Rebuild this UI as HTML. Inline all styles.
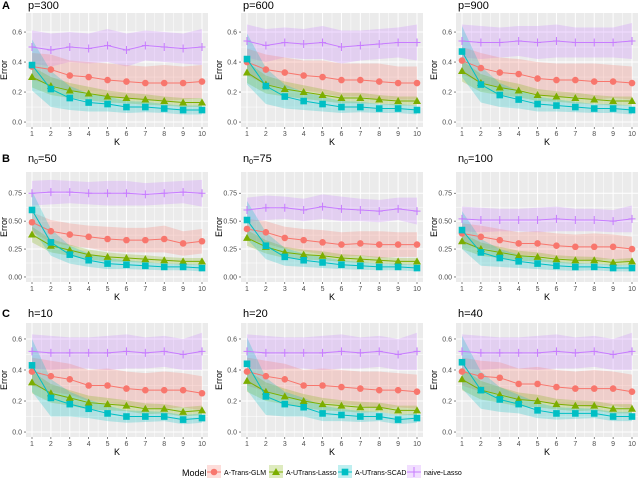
<!DOCTYPE html>
<html><head><meta charset="utf-8">
<style>
body{margin:0;background:#fff;}
svg{display:block;font-family:"Liberation Sans",Arial,sans-serif;}
</style></head>
<body>
<svg id="chart" width="640" height="478" viewBox="0 0 640 478"></svg>
<script>
const kValues=[1,2,3,4,5,6,7,8,9,10];
const panelTitles=["p=300","p=600","p=900","n0=50","n0=75","n0=100","h=10","h=20","h=40"];
const rowLetters=["A","B","C"];
const seriesNames=["A-Trans-GLM","A-UTrans-Lasso","A-UTrans-SCAD","naive-Lasso"];
const ticksAC=[0,0.2,0.4,0.6];
const tickLabelsAC=["0.0","0.2","0.4","0.6"];
const ticksB=[0,0.25,0.5,0.75];
const tickLabelsB=["0.00","0.25","0.50","0.75"];
const glmVals=[
[.37,.35,.31,.30,.28,.27,.26,.26,.26,.27],
[.40,.35,.33,.31,.30,.28,.28,.27,.26,.26],
[.41,.36,.33,.32,.29,.28,.28,.27,.27,.26],
[.49,.41,.38,.36,.34,.33,.33,.34,.30,.32],
[.43,.40,.35,.33,.31,.29,.30,.29,.29,.29],
[.39,.36,.33,.30,.30,.28,.27,.27,.27,.25],
[.39,.36,.34,.30,.30,.28,.27,.27,.27,.25],
[.39,.36,.34,.30,.30,.29,.28,.27,.27,.26],
[.39,.36,.35,.31,.31,.29,.28,.28,.28,.26]];
const ulassoVals=[
[.30,.24,.21,.19,.17,.16,.15,.14,.13,.13],
[.33,.25,.22,.20,.18,.16,.16,.15,.14,.14],
[.34,.26,.23,.21,.18,.17,.16,.15,.14,.14],
[.38,.28,.24,.20,.18,.17,.16,.15,.14,.14],
[.35,.27,.22,.20,.19,.17,.16,.15,.14,.14],
[.32,.25,.22,.19,.18,.16,.15,.15,.13,.14],
[.32,.25,.22,.19,.18,.17,.15,.15,.13,.14],
[.33,.26,.23,.20,.18,.17,.16,.16,.14,.14],
[.34,.27,.24,.21,.20,.18,.17,.17,.15,.15]];
const uscadVals=[
[.38,.22,.16,.13,.12,.10,.10,.09,.08,.08],
[.42,.24,.17,.14,.12,.10,.10,.09,.09,.08],
[.47,.25,.18,.15,.12,.11,.10,.09,.09,.08],
[.60,.31,.20,.15,.12,.11,.10,.09,.09,.08],
[.51,.28,.18,.15,.13,.11,.10,.09,.09,.08],
[.42,.22,.17,.14,.12,.10,.09,.09,.08,.08],
[.43,.22,.18,.15,.12,.10,.10,.10,.08,.09],
[.44,.23,.18,.16,.12,.11,.10,.10,.08,.09],
[.45,.27,.21,.18,.14,.12,.12,.12,.10,.10]];
const naiveVals=[
[.50,.48,.50,.49,.51,.48,.51,.50,.49,.50],
[.54,.51,.53,.52,.53,.50,.51,.52,.53,.53],
[.54,.53,.53,.54,.53,.54,.53,.53,.53,.54],
[.75,.76,.76,.75,.75,.75,.74,.75,.76,.75],
[.60,.62,.62,.60,.63,.61,.60,.59,.61,.59],
[.52,.51,.51,.51,.51,.52,.51,.51,.50,.52],
[.52,.51,.51,.51,.51,.52,.51,.52,.50,.52],
[.52,.51,.51,.51,.51,.52,.51,.52,.50,.52],
[.52,.51,.51,.51,.51,.52,.51,.52,.50,.52]];
const sdGLM=[.09,.10,.10,.10,.11,.11,.11,.12,.11,.11];
const sdUL=[.07,.06,.05,.045,.04,.035,.035,.03,.03,.03];
const sdSC=[.17,.12,.08,.06,.05,.04,.035,.03,.03,.03];
const sdNaive=[.11,.11,.10,.10,.11,.11,.10,.10,.10,.12];

const colors=["#F8766D","#7CAE00","#00BFC4","#C77CFF"];
const NS="http://www.w3.org/2000/svg";
const svg=document.getElementById("chart");
function mk(tag,attrs,parent){const e=document.createElementNS(NS,tag);for(const k in attrs)e.setAttribute(k,attrs[k]);(parent||svg).appendChild(e);return e;}

const colX=[26,241,456];
const panelW=182;
const rowGeom=[{top:13,bot:127,ymin:-0.033,ymax:0.727,titleY:9},
               {top:172,bot:282,ymin:-0.045,ymax:0.94,titleY:162},
               {top:323,bot:437,ymin:-0.032,ymax:0.703,titleY:317}];

for(let p=0;p<9;p++){
  const r=Math.floor(p/3),c=p%3;
  const g=rowGeom[r];const x0=colX[c];
  const grp=mk("g",{});
  
  
  const xs=k=>x0+6+(k-1)*(panelW-12)/9;
  const ys=v=>g.bot-(v-g.ymin)/(g.ymax-g.ymin)*(g.bot-g.top);
  const bg=mk("rect",{x:x0,y:g.top,width:panelW,height:g.bot-g.top,fill:"#EBEBEB"},grp);
  
  const ticks=r===1?ticksB:ticksAC, tl=r===1?tickLabelsB:tickLabelsAC;
  for(let i=0;i<ticks.length-1;i++){const y=ys((ticks[i]+ticks[i+1])/2);mk("line",{x1:x0,x2:x0+panelW,y1:y,y2:y,stroke:"#fff","stroke-width":0.5},grp);}
  for(let k=1;k<10;k++){const x=xs(k+0.5);mk("line",{x1:x,x2:x,y1:g.top,y2:g.bot,stroke:"#fff","stroke-width":0.5},grp);}
  ticks.forEach((t,i)=>{const y=ys(t);mk("line",{x1:x0,x2:x0+panelW,y1:y,y2:y,stroke:"#fff","stroke-width":1},grp);
    mk("line",{x1:x0-2,x2:x0,y1:y,y2:y,stroke:"#333","stroke-width":0.6},grp);
    const tx=mk("text",{x:x0-4,y:y+2.5,"text-anchor":"end","font-size":7,fill:"#4D4D4D"},grp);tx.textContent=tl[i];
    });
  kValues.forEach(k=>{const x=xs(k);mk("line",{x1:x,x2:x,y1:g.top,y2:g.bot,stroke:"#fff","stroke-width":1},grp);
    mk("line",{x1:x,x2:x,y1:g.bot,y2:g.bot+2,stroke:"#333","stroke-width":0.6},grp);
    const tx=mk("text",{x:x,y:g.bot+9,"text-anchor":"middle","font-size":7,fill:"#4D4D4D"},grp);tx.textContent=k;
    });
  const xl=mk("text",{x:x0+panelW/2,y:g.bot+18,"text-anchor":"middle","font-size":9,fill:"#000"},grp);xl.textContent="K";
  
  const yl=mk("text",{x:0,y:0,"text-anchor":"middle","font-size":9,fill:"#000",transform:`translate(${x0-19},${(g.top+g.bot)/2}) rotate(-90)`},grp);yl.textContent="Error";
  
  const tt=mk("text",{x:x0+2,y:g.titleY,"font-size":11,fill:"#000"},grp);
  
  if(r===1){const v=panelTitles[p].slice(3);tt.innerHTML='n<tspan font-size="7" dy="2">0</tspan><tspan dy="-2">='+v+'</tspan>';}
  else tt.textContent=panelTitles[p];
  if(c===0){const lt=mk("text",{x:2,y:g.titleY,"font-size":11,"font-weight":"bold",fill:"#000"},grp);lt.textContent=rowLetters[r];
    }
  const means=[glmVals[p],ulassoVals[p],uscadVals[p],naiveVals[p]];
  const sds=[sdGLM,sdUL,sdSC,sdNaive];
  [3,0,1,2].forEach(s=>{
    const up=kValues.map((k,i)=>xs(k)+","+ys(means[s][i]+sds[s][i]));
    const lo=kValues.map((k,i)=>xs(k)+","+ys(Math.max(0.01,means[s][i]-sds[s][i]))).reverse();
    const b=mk("polygon",{points:up.concat(lo).join(" "),fill:colors[s],"fill-opacity":0.25},grp);
    
  });
  [3,0,1,2].forEach(s=>{
    const pts=kValues.map((k,i)=>xs(k)+","+ys(means[s][i])).join(" ");
    const l=mk("polyline",{points:pts,fill:"none",stroke:colors[s],"stroke-width":1},grp);
    
    kValues.forEach((k,i)=>{const x=xs(k),y=ys(means[s][i]);let m;
      if(s===0)m=mk("circle",{cx:x,cy:y,r:3.3,fill:colors[s]},grp);
      else if(s===1)m=mk("polygon",{points:`${x},${y-4} ${x-4},${y+3} ${x+4},${y+3}`,fill:colors[s]},grp);
      else if(s===2)m=mk("rect",{x:x-3.3,y:y-3.3,width:6.6,height:6.6,fill:colors[s]},grp);
      else m=mk("path",{d:`M${x-3.5},${y}H${x+3.5}M${x},${y-4}V${y+4}`,stroke:colors[s],"stroke-width":1},grp);
      });
  });
}
const lg=mk("g",{});
const lt=mk("text",{x:182,y:476,"font-size":9,fill:"#000"},lg);lt.textContent="Model";

const keyX=[207,269,338,407];
seriesNames.forEach((n,s)=>{
  const e=mk("g",{},lg);
  const x=keyX[s]+7,y=472;
  mk("rect",{x:keyX[s],y:465,width:14,height:14,fill:colors[s],"fill-opacity":0.25},e);
  mk("line",{x1:keyX[s],x2:keyX[s]+14,y1:y,y2:y,stroke:colors[s],"stroke-width":1},e);
  if(s===0)mk("circle",{cx:x,cy:y,r:3.3,fill:colors[s]},e);
  else if(s===1)mk("polygon",{points:`${x},${y-4} ${x-4},${y+3} ${x+4},${y+3}`,fill:colors[s]},e);
  else if(s===2)mk("rect",{x:x-3.3,y:y-3.3,width:6.6,height:6.6,fill:colors[s]},e);
  else mk("line",{x1:x,x2:x,y1:y-5,y2:y+5,stroke:colors[s],"stroke-width":1},e);
  const t=mk("text",{x:keyX[s]+17,y:475,"font-size":7,fill:"#000"},e);t.textContent=n;
});
</script>
</body></html>
